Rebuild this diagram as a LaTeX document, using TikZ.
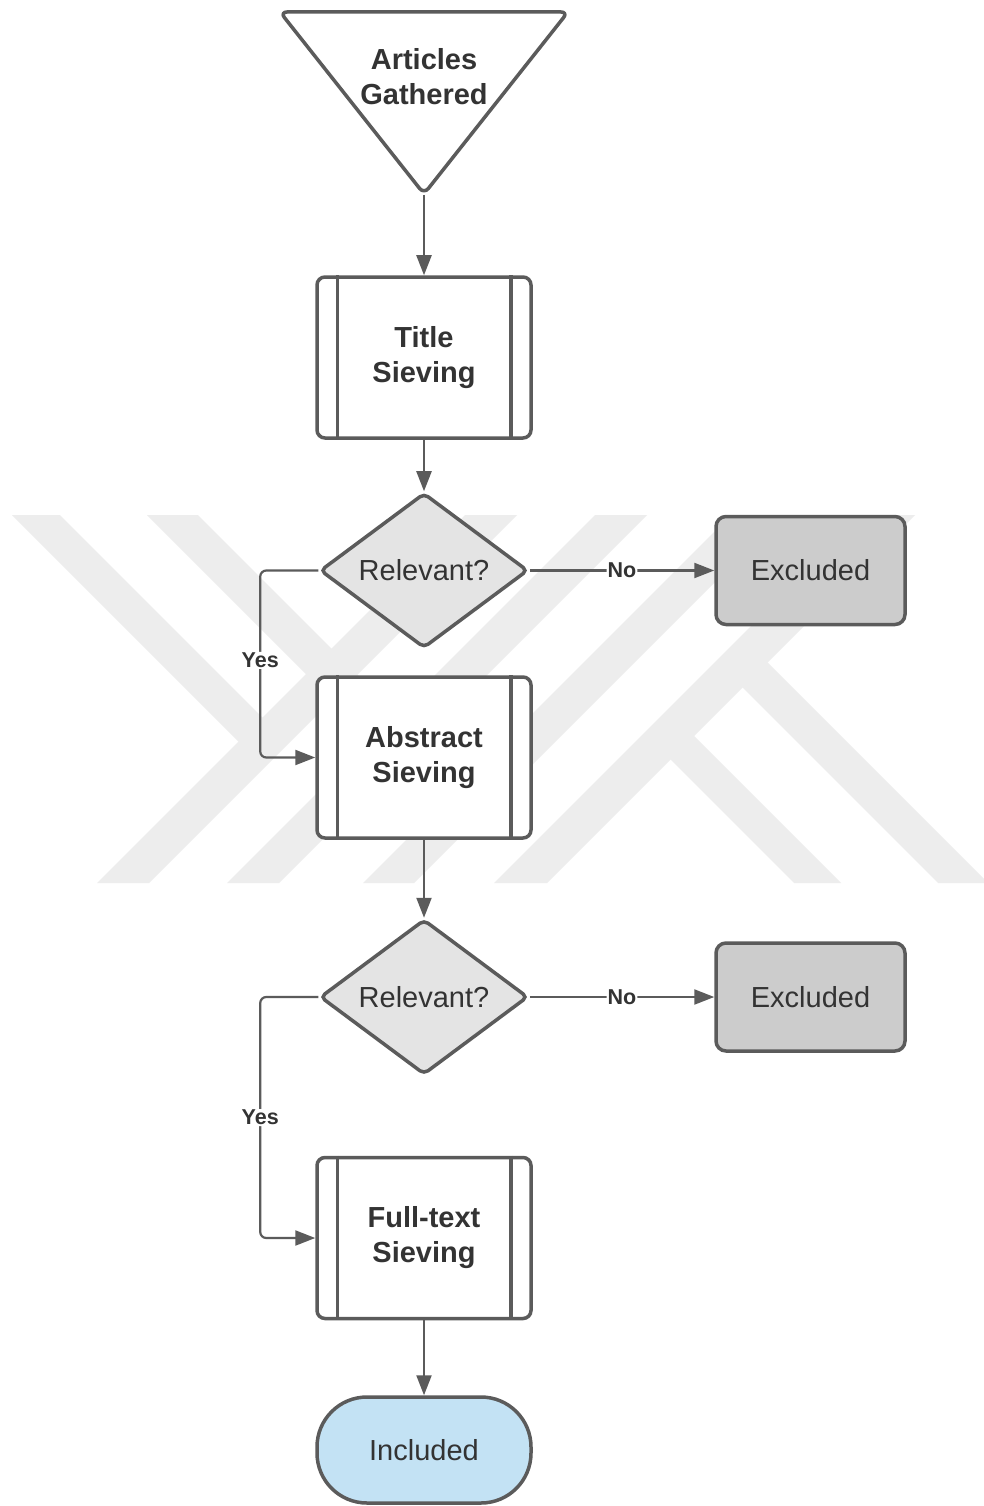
\documentclass[tikz,border=0pt]{standalone}
\usepackage{fontspec}
\setmainfont{Liberation Sans}
\usetikzlibrary{shapes.geometric,arrows.meta}
\definecolor{edge}{HTML}{5B5B5B}
\definecolor{ink}{HTML}{333333}
\definecolor{wmgray}{HTML}{EDEDED}
\definecolor{decfill}{HTML}{E4E4E4}
\definecolor{exfill}{HTML}{CCCCCC}
\definecolor{infill}{HTML}{C3E2F4}

\begin{document}
\begin{tikzpicture}[x=1pt,y=-1pt,
  base/.style={draw=edge, line width=3.5pt, text=ink, align=center, inner sep=0pt},
  procbox/.style={base, rectangle, rounded corners=8pt, minimum width=214pt, minimum height=161pt,
    fill=white, font=\fontsize{29}{35}\selectfont\bfseries},
  decide/.style={base, diamond, rounded corners=5pt, minimum width=208pt, minimum height=155pt,
    fill=decfill, font=\fontsize{29}{35}\selectfont},
  outbox/.style={base, rectangle, rounded corners=10pt, minimum width=189pt, minimum height=108pt,
    fill=exfill, font=\fontsize{29}{35}\selectfont},
  endbox/.style={base, rectangle, rounded corners=50pt, minimum width=214pt, minimum height=106pt,
    fill=infill, font=\fontsize{29}{35}\selectfont},
  conn/.style={draw=edge, line width=2.2pt, -{Triangle[length=20pt,width=15pt]}, rounded corners=6pt},
  tag/.style={fill=white, inner sep=1pt, text=ink, font=\fontsize{21.5}{24}\selectfont\bfseries},
  sieve/.style={draw=edge, line width=3.5pt},
  band/.style={fill=wmgray}
]
\fill[white] (0,0) rectangle (984,1506);
\useasboundingbox (0,0) rectangle (984,1506);

% background emblem: light diagonal bands
\begin{scope}
  \clip (0,515) rectangle (984,883);
  % two "Y" strokes on the left
  \fill[band] (12,515) -- (60,515) -- (275.5,730.5) -- (251.5,754.5) -- cycle;
  \fill[band] (465,515) -- (517,515) -- (149,883) -- (97,883) -- cycle;
  \fill[band] (147,515) -- (198,515) -- (409.5,726.5) -- (384,752) -- cycle;
  \fill[band] (595,515) -- (647,515) -- (279,883) -- (227,883) -- cycle;
  % strokes on the right: a plain slash and a slash with two legs
  \fill[band] (731,515) -- (782,515) -- (414,883) -- (363,883) -- cycle;
  \fill[band] (862,515) -- (915,515) -- (547,883) -- (494,883) -- cycle;
  \fill[band] (680.5,722.5) -- (841,883) -- (794,883) -- (657,746) -- cycle;
  \fill[band] (754,649) -- (988,883) -- (938,883) -- (729,674) -- cycle;
\end{scope}

% start: inverted triangle
\draw[edge, line width=3.5pt, fill=white, rounded corners=7pt, line join=round]
  (280,12) -- (568,12) -- (424,194) -- cycle;
\coordinate (tip) at (424,195);
\node[text=ink, align=center, font=\fontsize{29}{35}\selectfont\bfseries] (gath) at (424,77) {Articles\\Gathered};

% steps
\node[procbox] (title) at (424,357.5) {Title\\Sieving};
\node[decide] (d1) at (424,570.5) {Relevant?};
\node[outbox] (x1) at (810.5,570.5) {Excluded};
\node[procbox] (abs) at (424,757.5) {Abstract\\Sieving};
\node[decide] (d2) at (424,997) {Relevant?};
\node[outbox] (x2) at (810.5,997) {Excluded};
\node[procbox] (full) at (424,1238) {Full-text\\Sieving};
\node[endbox] (incl) at (424,1450) {Included};

% side bars of the predefined-process boxes
\foreach \n in {title,abs,full}{
  \draw[sieve] ([xshift=22pt]\n.north west) -- ([xshift=22pt]\n.south west);
  \draw[sieve] ([xshift=-22pt]\n.north east) -- ([xshift=-22pt]\n.south east);
}

% connectors
\draw[conn] (tip) -- (title);
\draw[conn] (title) -- (d1);
\draw[conn] (d1) -- node[tag]{No} (x1);
\draw[conn] (d1.west) -- ++(-58,0) |- node[tag, pos=0.24]{Yes} (abs.west);
\draw[conn] (abs) -- (d2);
\draw[conn] (d2) -- node[tag]{No} (x2);
\draw[conn] (d2.west) -- ++(-58,0) |- node[tag, pos=0.25]{Yes} (full.west);
\draw[conn] (full) -- (incl);
\end{tikzpicture}
\end{document}
